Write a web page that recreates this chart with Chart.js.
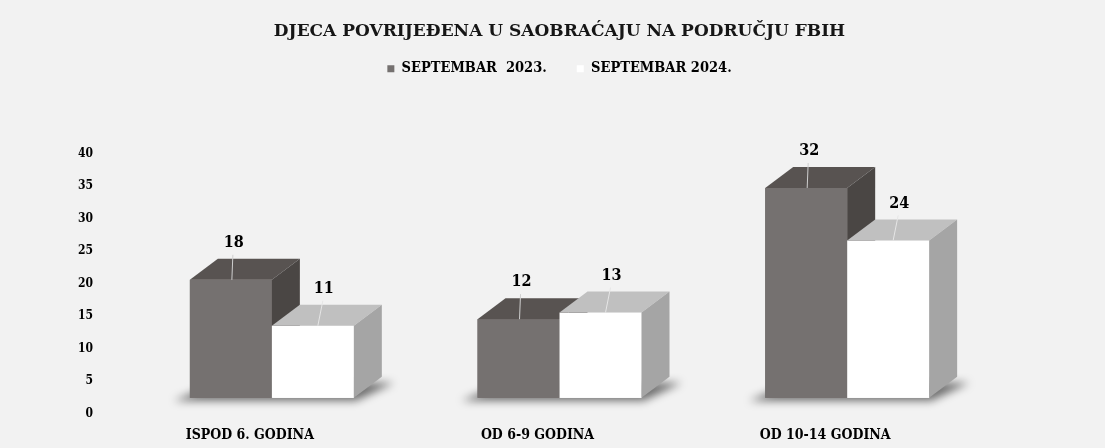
<!DOCTYPE html>
<html lang="bs">
<head>
<meta charset="UTF-8">
<title>Djeca povrijeđena u saobraćaju</title>
<style>
  html, body { margin: 0; padding: 0; background: #f2f2f2; }
  #wrap { width: 1105px; height: 448px; }
</style>
</head>
<body>
<div id="wrap"><canvas id="myChart"></canvas></div>
<script src="https://cdn.jsdelivr.net/npm/chart.js"></script>
<script>
    // podaci
    const kategorije = ['ISPOD 6. GODINA', 'OD 6-9 GODINA', 'OD 10-14 GODINA'];
    const serije = ['SEPTEMBAR  2023.', 'SEPTEMBAR 2024.'];
    const sept2023 = [18, 12, 32];
    const sept2024 = [11, 13, 24];
    const yTicks = [0, 5, 10, 15, 20, 25, 30, 35, 40];

    const FONT = "'DejaVu Serif Condensed', 'DejaVu Serif', serif";
    const DX = 28, DY = 21;   // dubina 3D kocke
    const boje = [
        { front: '#757170', top: '#585351', side: '#4a4644' },
        { front: '#ffffff', top: '#c0c0c0', side: '#a5a5a5' }
    ];

    function kocka(ctx, b, c) {
        const l = b.x - b.width / 2, r = b.x + b.width / 2;
        const t = b.y, base = b.base;
        ctx.fillStyle = c.front;
        ctx.fillRect(l, t, r - l, base - t);
        ctx.fillStyle = c.top;
        ctx.beginPath();
        ctx.moveTo(l, t); ctx.lineTo(r, t); ctx.lineTo(r + DX, t - DY); ctx.lineTo(l + DX, t - DY);
        ctx.closePath(); ctx.fill();
        ctx.fillStyle = c.side;
        ctx.beginPath();
        ctx.moveTo(r, t); ctx.lineTo(r + DX, t - DY); ctx.lineTo(r + DX, base - DY); ctx.lineTo(r, base);
        ctx.closePath(); ctx.fill();
    }

    const kocke3d = {
        id: 'kocke3d',
        beforeDatasetsDraw(chart) {
            // sjena na podu
            const ctx = chart.ctx;
            const m0 = chart.getDatasetMeta(0), m1 = chart.getDatasetMeta(1);
            ctx.save();
            ctx.filter = 'blur(4px)';
            ctx.fillStyle = 'rgba(0,0,0,0.55)';
            m0.data.forEach((b0, i) => {
                const b1 = m1.data[i];
                const l = b0.x - b0.width / 2, r = b1.x + b1.width / 2, base = b0.base;
                ctx.beginPath();
                ctx.moveTo(l - 16, base + 3);
                ctx.lineTo(r + 2, base + 3);
                ctx.lineTo(r + DX + 12, base - DY + 6);
                ctx.lineTo(l + DX, base - DY + 6);
                ctx.closePath(); ctx.fill();
            });
            ctx.restore();
        },
        afterDatasetsDraw(chart) {
            const ctx = chart.ctx;
            const metas = [chart.getDatasetMeta(0), chart.getDatasetMeta(1)];
            ctx.save();
            metas[0].data.forEach((_, i) => {
                metas.forEach((m, d) => kocka(ctx, m.data[i], boje[d]));
            });
            // vrijednosti iznad stubaca
            ctx.font = 'bold 16px ' + FONT;
            ctx.fillStyle = '#000';
            ctx.textAlign = 'center';
            ctx.textBaseline = 'middle';
            metas.forEach((m, d) => {
                const vals = chart.data.datasets[d].data;
                m.data.forEach((b, i) => {
                    const tx = b.x + (d === 0 ? 3 : 11);
                    const ty = b.y - 37;
                    ctx.strokeStyle = d === 0 ? '#cfcfcf' : '#e6e6e6';
                    ctx.lineWidth = 1;
                    ctx.beginPath();
                    ctx.moveTo(tx - 1, ty + 12);
                    ctx.lineTo(tx - (d === 0 ? 2 : 6), b.y);
                    ctx.stroke();
                    ctx.fillText(vals[i], tx, ty);
                });
            });
            ctx.restore();
        }
    };

    const ctx = document.getElementById('myChart').getContext('2d');
    new Chart(ctx, {
        type: 'bar',
        data: {
            labels: kategorije,
            datasets: [
                { label: serije[0], data: sept2023, backgroundColor: boje[0].front, borderWidth: 0, yAxisID: 'y2' },
                { label: serije[1], data: sept2024, backgroundColor: boje[1].front, borderWidth: 0, yAxisID: 'y2' }
            ]
        },
        options: {
            responsive: true,
            maintainAspectRatio: false,
            animation: false,
            layout: { padding: { left: 78, right: 114, top: 0, bottom: 4 } },
            datasets: { bar: { barPercentage: 1, categoryPercentage: 0.57 } },
            plugins: {
                tooltip: { enabled: false },
                title: {
                    display: true,
                    fullSize: false,
                    text: 'DJECA POVRIJEĐENA U SAOBRAĆAJU NA PODRUČJU FBIH',
                    color: '#161616',
                    font: { family: "'DejaVu Serif', serif", size: 17, weight: 'bold' },
                    padding: { top: 21, bottom: -10 }
                },
                legend: {
                    fullSize: false,
                    labels: {
                        boxWidth: 7,
                        boxHeight: 7,
                        padding: 30,
                        color: '#000',
                        font: { family: FONT, size: 14.5, weight: 'bold' }
                    }
                },
                // prazan razmak izmedju legende i grafikona
                subtitle: {
                    display: true,
                    text: '',
                    weight: 500,
                    font: { size: 10 },
                    padding: { top: 56, bottom: 0 }
                }
            },
            scales: {
                x: {
                    grid: { display: false, drawTicks: false },
                    border: { display: false },
                    afterFit: s => { s.paddingLeft = 0; s.paddingRight = 0; s.height -= s.options.ticks.padding; },
                    ticks: { color: '#000', padding: 13.6, labelOffset: -22, font: { family: FONT, size: 14, weight: 'bold' } }
                },
                y: {
                    min: 0,
                    max: 40,
                    afterBuildTicks: s => { s.ticks = yTicks.map(v => ({ value: v })); },
                    afterFit: s => { s.paddingTop = 0; s.paddingBottom = 0; s.width -= s.options.ticks.padding; },
                    grid: { display: false, drawTicks: false },
                    border: { display: false },
                    ticks: { color: '#000', padding: 35, font: { family: FONT, size: 12, weight: 'bold' } }
                },
                y2: { display: false, min: -2.4, max: 37.2 }
            }
        },
        plugins: [kocke3d]
    });
</script>
</body>
</html>
